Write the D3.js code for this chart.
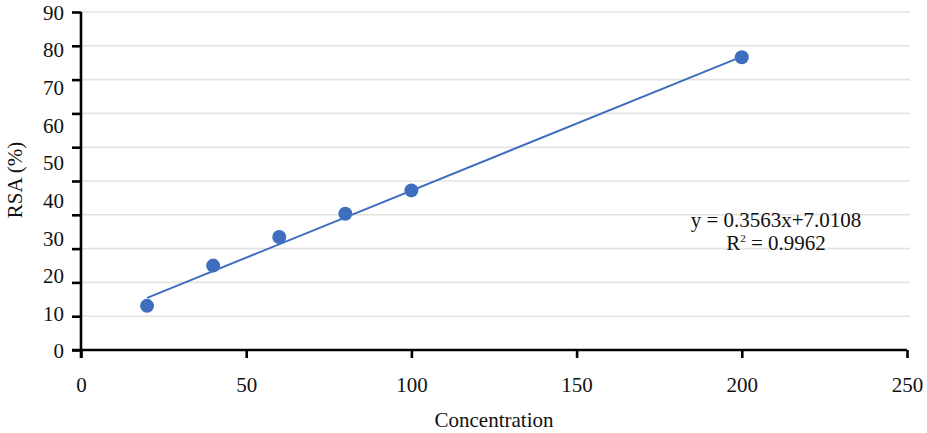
<!DOCTYPE html>
<html><head><meta charset="utf-8">
<script src="https://cdn.jsdelivr.net/npm/d3@7"></script>
<style>
html,body{margin:0;padding:0;background:#fff;}
text{font-family:"Liberation Serif","Times New Roman",serif;fill:#111;}
</style></head>
<body><svg id="chart" width="927" height="433"></svg>
<script>
// Data
const concentrations = [20, 40, 60, 80, 100, 200];
const rsaValues = [12.0, 22.7, 30.3, 36.5, 42.7, 78.1];
const xTickValues = [0, 50, 100, 150, 200, 250];
const yTickLabels = [0, 10, 20, 30, 40, 50, 60, 70, 80, 90];
const trendSlope = 0.3563, trendIntercept = 7.0108, rSquared = 0.9962;
const gridSteps = d3.range(0, 11);

const svg = d3.select("#chart");
const x = d3.scaleLinear().domain([0, 250]).range([81, 907]);
const y = d3.scaleLinear().domain([0, 90]).range([351, 12.5]);
const yGrid = d3.scaleLinear().domain([0, 10]).range([350, 12]);
const blue = "#3f6ebf";

// gridlines
svg.append("g").selectAll("line").data(gridSteps.slice(1)).join("line")
  .attr("x1", x(0)).attr("x2", 910)
  .attr("y1", d => yGrid(d)).attr("y2", d => yGrid(d))
  .attr("stroke", "#e3e3e3").attr("stroke-width", 1.6);

// y axis ticks (aligned to gridlines)
const yAx = svg.append("g").attr("transform", `translate(${x(0)},0)`)
  .call(d3.axisLeft(yGrid).tickValues(gridSteps).tickSize(9).tickFormat(""));
yAx.select(".domain").attr("d", `M0,${yGrid(10)}V${yGrid(0) + 8}`);
yAx.selectAll("path,line").attr("stroke", "#000").attr("stroke-width", 2.6);

// y labels
svg.append("g").selectAll("text").data(yTickLabels).join("text")
  .attr("x", 64).attr("y", d => y(d)).attr("dy", "0.35em")
  .attr("text-anchor", "end").style("font-size", "21px").text(d => d);

// x axis
const xAx = svg.append("g").attr("transform", `translate(0,${yGrid(0)})`)
  .call(d3.axisBottom(x).tickValues(xTickValues).tickSize(8).tickPadding(19));
xAx.select(".domain").attr("d", `M${x(0) - 9},0H${x(250)}`);
xAx.selectAll("path,line").attr("stroke", "#000").attr("stroke-width", 2.6);
xAx.selectAll("text").style("font-size", "21px").attr("fill", "#111")
  .style("font-family", "'Liberation Serif', serif");

// trend line
const tx = d3.extent(concentrations);
svg.append("line")
  .attr("x1", x(tx[0])).attr("y1", y(trendSlope * tx[0] + trendIntercept))
  .attr("x2", x(tx[1])).attr("y2", y(trendSlope * tx[1] + trendIntercept))
  .attr("stroke", blue).attr("stroke-width", 2);

// points
svg.append("g").selectAll("circle").data(concentrations).join("circle")
  .attr("cx", d => x(d)).attr("cy", (d, i) => y(rsaValues[i]))
  .attr("r", 7).attr("fill", blue);

// equation
svg.append("text").attr("x", 776).attr("y", 227)
  .attr("text-anchor", "middle").style("font-size", "21px")
  .text(`y = ${trendSlope}x+${trendIntercept}`);
const r2 = svg.append("text").attr("x", 776).attr("y", 250)
  .attr("text-anchor", "middle").style("font-size", "21px");
r2.append("tspan").text("R");
r2.append("tspan").attr("dy", -8).style("font-size", "11px").text("2");
r2.append("tspan").attr("dy", 8).text(` = ${rSquared}`);

// axis titles
svg.append("text").attr("x", 494).attr("y", 427).attr("text-anchor", "middle")
  .style("font-size", "21px").text("Concentration");
svg.append("text").attr("transform", "translate(22,180) rotate(-90)")
  .attr("text-anchor", "middle").style("font-size", "21px").text("RSA (%)");
</script></body></html>
